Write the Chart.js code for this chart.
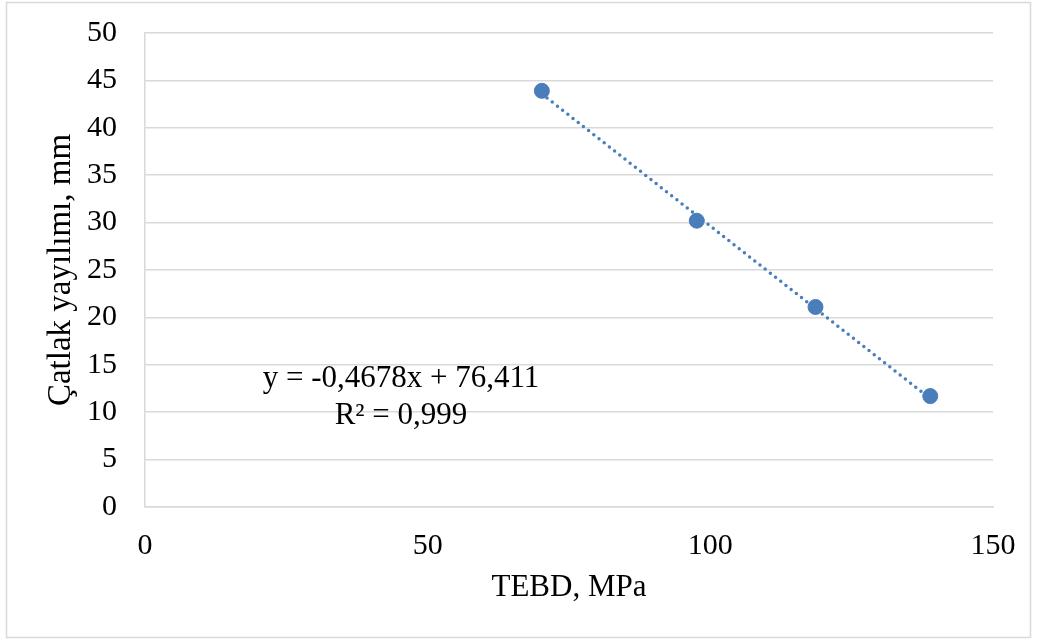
<!DOCTYPE html>
<html>
<head>
<meta charset="utf-8">
<script src="https://cdn.jsdelivr.net/npm/chart.js@4"></script>
<style>
  html, body { margin: 0; padding: 0; background: #fff; }
  #wrap { position: relative; width: 1038px; height: 640px; }
</style>
</head>
<body>
<div id="wrap"><canvas id="grafik" width="1038" height="640"></canvas></div>
<script>
// Veriler
const tebd = [70.2, 97.6, 118.6, 138.9];
const catlak = [43.9, 30.2, 21.1, 11.7];
const xTicks = [0, 50, 100, 150];
const yTicks = [0, 5, 10, 15, 20, 25, 30, 35, 40, 45, 50];

// Eğilim çizgisi katsayıları (grafikteki denklem)
const egim = -0.4678;
const kesim = 76.411;
const denklem = ['y = -0,4678x + 76,411', 'R² = 0,999'];

const mavi = '#4a7ebb';
const yazi = 'Liberation Serif';

const xMin = Math.min(...tebd);
const xMax = Math.max(...tebd);
const trend = [
    { x: xMin, y: egim * xMin + kesim },
    { x: xMax, y: egim * xMax + kesim }
];

// Dış çerçeve ve denklem yazısı
const ekler = {
    id: 'ekler',
    beforeDraw(chart) {
        const ctx = chart.ctx;
        ctx.save();
        ctx.fillStyle = '#fff';
        ctx.fillRect(0, 0, chart.width, chart.height);
        ctx.strokeStyle = '#d9d9d9';
        ctx.lineWidth = 1.5;
        ctx.strokeRect(6.5, 2.5, 1024, 635);
        ctx.restore();
    },
    afterDatasetsDraw(chart) {
        const ctx = chart.ctx;
        ctx.save();
        ctx.font = '31px "' + yazi + '"';
        ctx.fillStyle = '#000';
        ctx.textAlign = 'center';
        ctx.textBaseline = 'middle';
        ctx.fillText(denklem[0], 401, 379);
        ctx.fillText(denklem[1], 401, 416);
        ctx.restore();
    }
};

new Chart(document.getElementById('grafik'), {
    type: 'scatter',
    data: {
        datasets: [
            {
                label: 'Çatlak yayılımı',
                data: tebd.map((x, i) => ({ x: x, y: catlak[i] })),
                backgroundColor: mavi,
                borderColor: mavi,
                pointRadius: 7.5,
                pointHoverRadius: 7.5,
                order: 1
            },
            {
                label: 'Eğilim',
                data: trend,
                showLine: true,
                borderColor: mavi,
                borderWidth: 3.5,
                borderDash: [0, 6.6],
                borderCapStyle: 'round',
                pointRadius: 0,
                fill: false,
                order: 2
            }
        ]
    },
    options: {
        responsive: false,
        animation: false,
        layout: { padding: { left: 0, top: 33, right: 45, bottom: 0 } },
        plugins: {
            legend: { display: false },
            tooltip: { enabled: false }
        },
        scales: {
            x: {
                type: 'linear',
                min: 0,
                max: 150,
                afterBuildTicks: (axis) => { axis.ticks = xTicks.map(v => ({ value: v })); },
                afterFit: (axis) => {
                    axis.height = 133;
                    axis.paddingLeft = 0;
                    axis.paddingRight = 0;
                },
                grid: { display: false, drawTicks: false },
                border: { display: true, color: '#d9d9d9', width: 1.5 },
                ticks: {
                    color: '#000',
                    padding: 21,
                    font: { family: yazi, size: 30 }
                },
                title: {
                    display: true,
                    text: 'TEBD, MPa',
                    color: '#000',
                    font: { family: yazi, size: 31 },
                    padding: { top: 0, bottom: 34 }
                }
            },
            y: {
                type: 'linear',
                min: 0,
                max: 50,
                afterBuildTicks: (axis) => { axis.ticks = yTicks.map(v => ({ value: v })); },
                afterFit: (axis) => {
                    axis.width = 145;
                    axis.paddingTop = 0;
                    axis.paddingBottom = 0;
                },
                grid: { color: '#d9d9d9', lineWidth: 1.5, drawTicks: false },
                border: { display: true, color: '#d9d9d9', width: 1.5 },
                ticks: {
                    color: '#000',
                    padding: 28,
                    font: { family: yazi, size: 30 }
                },
                title: {
                    display: true,
                    text: 'Çatlak yayılımı, mm',
                    color: '#000',
                    font: { family: yazi, size: 33 },
                    padding: { top: 42, bottom: 0 }
                }
            }
        }
    },
    plugins: [ekler]
});
</script>
</body>
</html>
